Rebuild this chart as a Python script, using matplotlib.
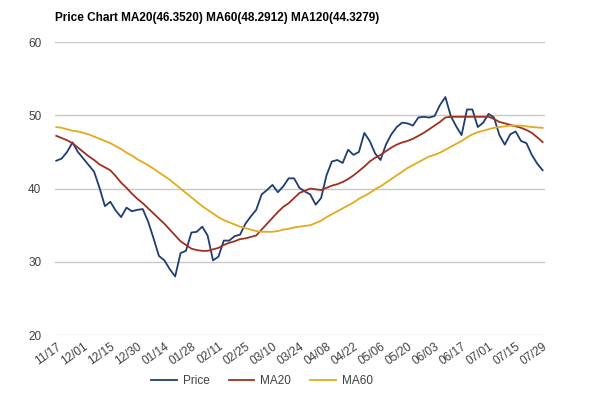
import matplotlib

matplotlib.use("Agg")
import matplotlib.pyplot as plt
import numpy as np

plt.rcParams["font.family"] = ["Liberation Sans", "DejaVu Sans"]

title = "Price Chart MA20(46.3520) MA60(48.2912) MA120(44.3279)"

# one point every second trading day, labels every 10 trading days
tick_labels = ["11/17", "12/01", "12/15", "12/30", "01/14", "01/28", "02/11",
               "02/25", "03/10", "03/24", "04/08", "04/22", "05/06", "05/20",
               "06/03", "06/17", "07/01", "07/15", "07/29"]

price = [43.8, 44.1, 45.0, 46.3, 45.0, 44.1, 43.2, 42.3, 40.1, 37.6,
         38.2, 37.0, 36.1, 37.4, 36.9, 37.1, 37.2, 35.5, 33.2, 30.8,
         30.2, 29.0, 28.0, 31.2, 31.5, 34.0, 34.1, 34.8, 33.6, 30.2,
         30.7, 32.9, 32.9, 33.5, 33.7, 35.2, 36.2, 37.1, 39.2, 39.8,
         40.5, 39.5, 40.3, 41.4, 41.4, 40.1, 39.6, 39.2, 37.8, 38.7,
         41.8, 43.7, 43.9, 43.5, 45.3, 44.6, 45.0, 47.6, 46.5, 44.8,
         43.9, 46.0, 47.4, 48.4, 49.0, 48.9, 48.6, 49.7, 49.8, 49.7,
         49.9, 51.4, 52.5, 49.9, 48.5, 47.3, 50.8, 50.8, 48.4, 49.0,
         50.2, 49.7, 47.3, 46.0, 47.4, 47.8, 46.5, 46.2, 44.6, 43.4,
         42.5]

ma20 = [47.2, 46.9, 46.6, 46.2, 45.6, 45.0, 44.4, 43.9, 43.3, 42.9,
        42.5, 41.7, 40.8, 40.1, 39.3, 38.6, 38.0, 37.3, 36.6, 35.9,
        35.2, 34.4, 33.6, 32.8, 32.3, 31.8, 31.6, 31.5, 31.5, 31.7,
        31.9, 32.3, 32.6, 32.8, 33.1, 33.2, 33.4, 33.6, 34.4, 35.2,
        36.0, 36.8, 37.5, 38.0, 38.7, 39.4, 39.7, 40.0, 39.9, 39.8,
        40.1, 40.4, 40.6, 40.9, 41.3, 41.8, 42.4, 43.0, 43.7, 44.2,
        44.6, 45.1, 45.6, 46.0, 46.3, 46.5, 46.8, 47.2, 47.6, 48.1,
        48.6, 49.1, 49.7, 49.8, 49.8, 49.8, 49.8, 49.8, 49.8, 49.8,
        49.8, 49.5, 49.1, 48.9, 48.7, 48.5, 48.3, 48.0, 47.6, 47.0,
        46.35]

ma60 = [48.4, 48.3, 48.1, 47.9, 47.8, 47.6, 47.4, 47.1, 46.8, 46.5,
        46.2, 45.8, 45.4, 44.9, 44.5, 44.0, 43.6, 43.2, 42.7, 42.2,
        41.7, 41.2, 40.6, 40.0, 39.4, 38.8, 38.2, 37.6, 37.1, 36.6,
        36.1, 35.7, 35.4, 35.1, 34.8, 34.6, 34.4, 34.2, 34.1, 34.1,
        34.1, 34.2, 34.4, 34.5, 34.7, 34.8, 34.9, 35.0, 35.3, 35.6,
        36.1, 36.5, 36.9, 37.3, 37.7, 38.1, 38.6, 39.0, 39.4, 39.9,
        40.3, 40.8, 41.3, 41.8, 42.3, 42.8, 43.2, 43.6, 44.0, 44.4,
        44.6, 44.9, 45.3, 45.7, 46.1, 46.5, 47.0, 47.4, 47.7, 47.9,
        48.1, 48.3, 48.4, 48.5, 48.6, 48.6, 48.6, 48.5, 48.4, 48.35,
        48.29]

x = np.arange(len(price))

fig = plt.figure(figsize=(6, 3.97), dpi=100)
ax = fig.add_axes([0.092, 0.156, 0.816, 0.738])

ax.plot(x, price, color="#1f3d73", lw=1.3, label="Price")
ax.plot(x, ma20, color="#a0301e", lw=1.3, label="MA20")
ax.plot(x, ma60, color="#e3aa1c", lw=1.3, label="MA60")

ax.set_ylim(20, 60)
ax.set_yticks([20, 30, 40, 50, 60])
ax.set_xlim(-0.2, 90.4)
ax.set_xticks(np.arange(0, len(price), 5))
ax.set_xticklabels(tick_labels, rotation=35, ha="right", rotation_mode="anchor")
ax.grid(axis="y", color="#c8c8c8", lw=1)
ax.set_axisbelow(True)
for s in ax.spines.values():
    s.set_visible(False)
ax.tick_params(axis="both", length=0, labelsize=8.5, colors="#404040")
ax.tick_params(axis="y", pad=10)
ax.tick_params(axis="x", pad=4)

fig.text(55 / 600, 1 - 18 / 397, title, fontsize=8.5, fontweight="bold",
         ha="left", va="center")
fig.legend(loc="center", bbox_to_anchor=(262 / 600, 1 - 381 / 397), ncol=3,
           frameon=False, fontsize=8.5, handlelength=2.2, columnspacing=1.6,
           handletextpad=0.5, labelcolor="#404040")

fig.savefig("out.png", dpi=100)
